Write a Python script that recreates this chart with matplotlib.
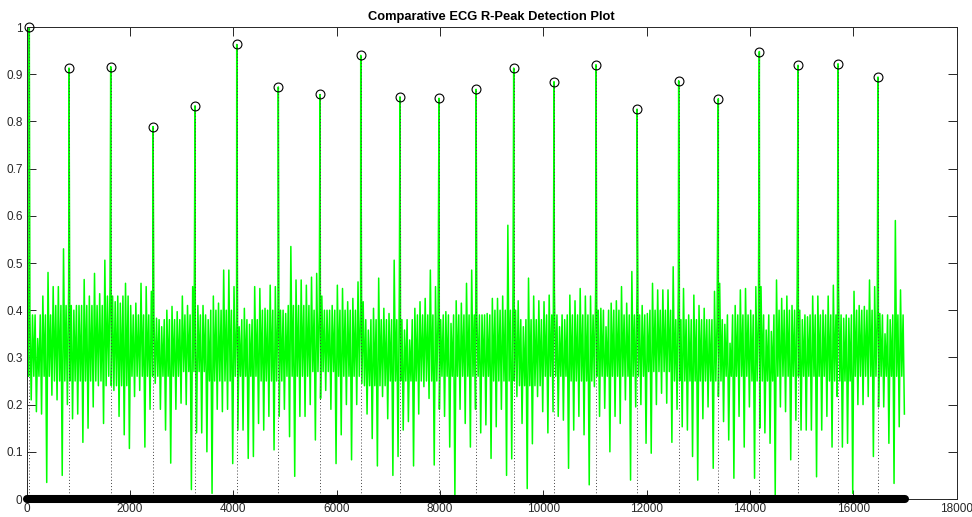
import numpy as np
import matplotlib
matplotlib.use("Agg")
import matplotlib.pyplot as plt

plt.rcParams['font.family'] = ['Liberation Sans', 'DejaVu Sans']

# ---- data ----
n_samples = 17000
bin_size = 100      # samples per envelope bin
core_size = 500     # samples per core-band segment

# detected R-peaks (sample index, normalised amplitude)
peak_locs = [50, 819, 1626, 2445, 3258, 4065, 4870, 5677, 6465, 7225, 7980,
             8697, 9426, 10206, 11019, 11813, 12619, 13386, 14180, 14929,
             15703, 16477]
peak_vals = [1.000, 0.913, 0.916, 0.789, 0.833, 0.963, 0.873, 0.857, 0.940,
             0.852, 0.849, 0.868, 0.913, 0.884, 0.920, 0.826, 0.886, 0.848,
             0.948, 0.919, 0.922, 0.894]

# per-bin upper / lower extremes of the normalised ECG signal
sig_hi = [0.45, 0.39, 0.34, 0.43, 0.48, 0.45, 0.45, 0.53, 0.45, 0.40,
          0.41, 0.465, 0.43, 0.478, 0.435, 0.506, 0.45, 0.418, 0.415, 0.457,
          0.41, 0.415, 0.457, 0.45, 0.44, 0.383, 0.365, 0.40, 0.408, 0.397,
          0.43, 0.41, 0.45, 0.41, 0.41, 0.38, 0.43, 0.415, 0.485, 0.485,
          0.45, 0.365, 0.404, 0.37, 0.45, 0.446, 0.404, 0.453, 0.45, 0.40,
          0.393, 0.535, 0.464, 0.464, 0.453, 0.47, 0.478, 0.43, 0.40, 0.41,
          0.453, 0.446, 0.418, 0.425, 0.46, 0.418, 0.358, 0.404, 0.468, 0.404,
          0.393, 0.506, 0.45, 0.358, 0.337, 0.404, 0.418, 0.425, 0.485, 0.45,
          0.38, 0.397, 0.372, 0.42, 0.415, 0.457, 0.485, 0.393, 0.39, 0.393,
          0.425, 0.425, 0.43, 0.58, 0.45, 0.42, 0.365, 0.468, 0.43, 0.42,
          0.418, 0.432, 0.45, 0.365, 0.38, 0.432, 0.42, 0.446, 0.43, 0.43,
          0.45, 0.404, 0.365, 0.415, 0.42, 0.45, 0.415, 0.482, 0.45, 0.41,
          0.393, 0.457, 0.443, 0.443, 0.443, 0.492, 0.45, 0.446, 0.39, 0.432,
          0.41, 0.404, 0.38, 0.44, 0.457, 0.37, 0.33, 0.41, 0.443, 0.446,
          0.40, 0.45, 0.45, 0.358, 0.355, 0.464, 0.425, 0.43, 0.41, 0.45,
          0.38, 0.386, 0.43, 0.43, 0.40, 0.43, 0.453, 0.45, 0.383, 0.383,
          0.44, 0.41, 0.408, 0.464, 0.45, 0.393, 0.35, 0.38, 0.59, 0.443]
sig_lo = [0.21, 0.185, 0.18, 0.035, 0.22, 0.21, 0.05, 0.20, 0.17, 0.18,
          0.12, 0.15, 0.195, 0.24, 0.16, 0.26, 0.23, 0.175, 0.136, 0.107,
          0.217, 0.23, 0.11, 0.19, 0.245, 0.19, 0.146, 0.076, 0.19, 0.203,
          0.20, 0.02, 0.14, 0.14, 0.10, 0.012, 0.19, 0.185, 0.19, 0.075,
          0.146, 0.146, 0.086, 0.09, 0.16, 0.146, 0.175, 0.104, 0.175, 0.19,
          0.132, 0.048, 0.175, 0.175, 0.20, 0.125, 0.213, 0.23, 0.19, 0.075,
          0.136, 0.20, 0.083, 0.20, 0.245, 0.18, 0.128, 0.07, 0.217, 0.17,
          0.05, 0.09, 0.146, 0.164, 0.07, 0.18, 0.238, 0.213, 0.072, 0.19,
          0.175, 0.11, 0.005, 0.19, 0.16, 0.11, 0.19, 0.14, 0.157, 0.086,
          0.153, 0.19, 0.05, 0.085, 0.217, 0.16, 0.022, 0.117, 0.217, 0.185,
          0.14, 0.185, 0.175, 0.167, 0.065, 0.146, 0.175, 0.136, 0.03, 0.238,
          0.175, 0.192, 0.10, 0.175, 0.16, 0.21, 0.04, 0.195, 0.20, 0.118,
          0.097, 0.20, 0.224, 0.203, 0.12, 0.19, 0.153, 0.146, 0.09, 0.04,
          0.17, 0.195, 0.065, 0.217, 0.164, 0.125, 0.044, 0.175, 0.11, 0.195,
          0.044, 0.15, 0.14, 0.118, 0.008, 0.195, 0.185, 0.083, 0.167, 0.146,
          0.146, 0.146, 0.047, 0.146, 0.175, 0.11, 0.217, 0.11, 0.118, 0.012,
          0.20, 0.20, 0.217, 0.09, 0.195, 0.195, 0.118, 0.033, 0.153, 0.18]

# dense core band of the signal, per 500-sample segment
core_hi = [0.39, 0.41, 0.41, 0.43, 0.39, 0.38, 0.39, 0.40, 0.38, 0.40,
           0.41, 0.40, 0.40, 0.38, 0.38, 0.39, 0.39, 0.39, 0.40, 0.38,
           0.39, 0.39, 0.40, 0.39, 0.40, 0.38, 0.38, 0.39, 0.39, 0.40,
           0.39, 0.39, 0.40, 0.39]
core_lo = [0.26, 0.25, 0.25, 0.24, 0.26, 0.26, 0.27, 0.25, 0.26, 0.25,
           0.26, 0.27, 0.26, 0.24, 0.25, 0.25, 0.26, 0.26, 0.25, 0.24,
           0.26, 0.25, 0.26, 0.26, 0.27, 0.25, 0.25, 0.26, 0.25, 0.26,
           0.26, 0.25, 0.26, 0.26]

x_ticks = list(range(0, 18001, 2000))
y_ticks = [0, 0.1, 0.2, 0.3, 0.4, 0.5, 0.6, 0.7, 0.8, 0.9, 1.0]
y_tick_labels = ['0', '0.1', '0.2', '0.3', '0.4', '0.5', '0.6', '0.7', '0.8', '0.9', '1']
title = 'Comparative ECG R-Peak Detection Plot'

# ---- build the signal trace from the envelope, core band and peaks ----
hi = np.asarray(sig_hi)
lo = np.asarray(sig_lo)
nb = len(hi)
seg = (np.arange(nb) * bin_size) // core_size
c_hi = np.asarray(core_hi)[seg]
c_lo = np.asarray(core_lo)[seg]
starts = np.arange(nb) * bin_size
q = bin_size / 8.0
xs = np.column_stack([starts + q, starts + 3 * q, starts + 5 * q, starts + 7 * q]).ravel()
ys = np.column_stack([hi, c_lo, c_hi, lo]).ravel()
xs = np.concatenate([xs, peak_locs])
ys = np.concatenate([ys, peak_vals])
order = np.argsort(xs, kind='stable')
xs, ys = xs[order], ys[order]

# ---- figure ----
fig = plt.figure(figsize=(9.72, 5.17), dpi=100)
ax = fig.add_axes([26.7 / 972, 18 / 517, 930 / 972, 472 / 517])

ax.plot(xs, ys, color='#00ff00', lw=1.1, zorder=2)

# stems from the baseline to each detected peak
ax.vlines(peak_locs, 0, peak_vals, colors='#444444', linestyles=(0, (1, 2.2)),
          lw=0.7, zorder=3)
ax.plot(peak_locs, peak_vals, 'o', mfc='none', mec='black', ms=6.4, mew=0.8,
        zorder=4, clip_on=False)

# thick baseline of zero markers
ax.plot([0, n_samples], [0, 0], color='black', lw=5.8, solid_capstyle='round',
        zorder=5, clip_on=False)

ax.set_xlim(0, 18000)
ax.set_ylim(0, 1)
ax.set_xticks(x_ticks)
ax.set_xticklabels([str(t) for t in x_ticks])
ax.set_yticks(y_ticks)
ax.set_yticklabels(y_tick_labels)
ax.tick_params(direction='in', length=6.8, width=0.7, colors='#262626',
               labelsize=8.5, top=True, right=True, pad=3)
for s in ax.spines.values():
    s.set_color('#262626')
    s.set_linewidth(0.7)
ax.set_title(title, fontsize=9.3, fontweight='bold', color='black', pad=5)

fig.savefig('out.png', dpi=100)
